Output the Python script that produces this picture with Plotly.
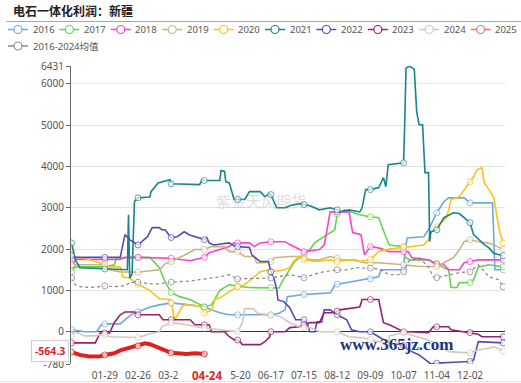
import plotly.graph_objects as go

YEAR = "2024"  # leap-year calendar so every MM-DD has a slot

# ---------------- data (MM-DD, value) ----------------
s2016 = [("01-01", 50), ("01-12", 0), ("01-22", 0), ("01-26", 170), ("01-29", 190), ("02-11", 190),
         ("02-15", 290), ("02-20", 410), ("02-26", 480), ("03-07", 600), ("03-15", 650), ("03-25", 700),
         ("04-10", 650), ("04-22", 600), ("04-28", 530), ("05-05", 460), ("05-13", 410), ("05-20", 410),
         ("06-17", 410), ("06-24", 450), ("06-29", 530), ("07-01", 850), ("07-15", 900), ("08-06", 940),
         ("08-08", 1020), ("08-10", 1140), ("08-12", 1150), ("08-22", 1190), ("09-09", 1280), ("09-16", 1330),
         ("09-18", 1500), ("10-05", 1500), ("10-07", 1500), ("10-08", 1910), ("10-10", 2270), ("10-24", 2300),
         ("10-28", 2470), ("11-04", 2880), ("11-10", 3150), ("11-14", 3240), ("11-27", 3240), ("12-02", 3120),
         ("12-21", 3120), ("12-23", 1500), ("12-30", 1500)]
s2017 = [("01-01", 1450), ("01-04", 1570), ("01-29", 1570), ("02-06", 1620), ("02-08", 1790), ("02-26", 1800),
         ("03-07", 1800), ("03-15", 1550), ("03-20", 1200), ("03-25", 950), ("04-01", 850), ("04-10", 780),
         ("04-18", 650), ("04-22", 600), ("04-28", 650), ("05-01", 800), ("05-05", 1000), ("05-13", 1140),
         ("05-20", 1100), ("05-30", 1070), ("06-17", 1070), ("06-24", 1060), ("06-26", 1190), ("06-29", 1330),
         ("07-03", 1500), ("07-07", 1700), ("07-11", 1790), ("07-15", 1860), ("07-20", 1990), ("07-24", 2150),
         ("07-28", 2230), ("08-01", 2300), ("08-06", 2400), ("08-10", 2470), ("08-12", 2850), ("08-18", 2950),
         ("08-31", 2830), ("09-09", 2780), ("09-16", 2760), ("09-19", 2520), ("09-22", 2300), ("09-25", 2100),
         ("10-07", 2060), ("10-08", 1820), ("10-12", 1740), ("10-28", 1740), ("11-04", 1650), ("11-10", 1550),
         ("11-14", 1500), ("11-16", 1070), ("11-21", 1070), ("11-23", 1190), ("12-02", 1190), ("12-05", 1260),
         ("12-09", 1570), ("12-18", 1620), ("12-30", 1570)]
s2018 = [("01-01", 1620), ("01-05", 1750), ("01-29", 1750), ("02-11", 1750), ("02-15", 1800), ("02-26", 1800),
         ("03-25", 1780), ("04-10", 1720), ("04-22", 1800), ("04-26", 1910), ("05-05", 1990), ("05-13", 2060),
         ("05-17", 2150), ("05-20", 2150), ("05-30", 2150), ("06-03", 2060), ("06-08", 2150), ("06-17", 2180),
         ("06-29", 2180), ("07-03", 2110), ("07-11", 1990), ("07-15", 1940), ("07-28", 1990), ("08-01", 2100),
         ("08-03", 2400), ("08-06", 2900), ("08-12", 2900), ("08-22", 2900), ("08-25", 2400), ("09-01", 2350),
         ("09-04", 1860), ("09-09", 2060), ("09-16", 2030), ("09-25", 1940), ("10-07", 1940), ("10-11", 1940),
         ("10-14", 1790), ("10-28", 1740), ("11-01", 1670), ("11-04", 1640), ("11-10", 1620), ("11-14", 1500),
         ("11-23", 1500), ("11-27", 1670), ("12-02", 1700), ("12-09", 1740), ("12-30", 1740)]
s2019 = [("01-01", 1770), ("01-04", 1620), ("01-25", 1620), ("01-29", 1600), ("02-02", 1500), ("02-11", 1450),
         ("02-26", 1440), ("03-15", 1500), ("03-20", 1650), ("03-25", 1700), ("04-05", 1850), ("04-14", 1990),
         ("04-22", 1990), ("04-28", 2060), ("05-09", 2060), ("05-13", 1940), ("05-20", 1940), ("05-26", 1820),
         ("06-03", 1820), ("06-05", 1670), ("06-12", 1670), ("06-17", 1700), ("06-20", 1790), ("07-03", 1820),
         ("07-11", 1820), ("07-15", 1780), ("07-20", 1740), ("07-28", 1740), ("08-06", 1820), ("08-12", 1780),
         ("08-14", 1740), ("08-27", 1740), ("09-04", 1670), ("09-09", 1670), ("09-16", 1670), ("10-07", 1620),
         ("10-20", 1580), ("11-04", 1580), ("11-06", 1580), ("11-10", 1670), ("11-18", 1790), ("11-22", 1940),
         ("11-27", 2180), ("12-02", 2230), ("12-09", 2180), ("12-18", 2150), ("12-22", 2100), ("12-30", 2000)]
s2020 = [("01-01", 1950), ("01-04", 1810), ("01-16", 1750), ("01-25", 1670), ("01-29", 1620), ("02-02", 1570),
         ("02-11", 1570), ("02-13", 1330), ("02-19", 1300), ("02-23", 1210), ("02-26", 1150), ("03-07", 1000),
         ("03-15", 800), ("03-24", 780), ("03-25", 700), ("03-28", 290), ("04-03", 600), ("04-05", 650),
         ("04-18", 620), ("04-22", 460), ("04-28", 520), ("05-01", 780), ("05-05", 820), ("05-13", 970),
         ("05-20", 1090), ("05-26", 1140), ("06-03", 1330), ("06-08", 1450), ("06-16", 1500), ("06-17", 1450),
         ("06-29", 1500), ("07-03", 1550), ("07-06", 1700), ("07-11", 1820), ("07-15", 1750), ("07-24", 1700),
         ("08-06", 1740), ("08-12", 1700), ("08-22", 1740), ("08-31", 1700), ("09-09", 1750), ("09-16", 1940),
         ("09-25", 2000), ("10-03", 2030), ("10-07", 2050), ("10-14", 2060), ("10-24", 2100), ("10-28", 2230),
         ("10-30", 2400), ("11-04", 2540), ("11-08", 2660), ("11-12", 2760), ("11-14", 2950), ("11-16", 3200),
         ("11-23", 3270), ("11-27", 3440), ("12-02", 3630), ("12-05", 3750), ("12-08", 3920), ("12-12", 3970),
         ("12-14", 3600), ("12-18", 3440), ("12-22", 3240), ("12-24", 2900), ("12-27", 2420), ("12-30", 2150)]
s2021 = [("01-01", 2150), ("01-04", 1750), ("01-08", 1550), ("01-29", 1520), ("02-15", 1500), ("02-17", 1500),
         ("02-18", 2830), ("02-19", 1300), ("02-21", 1400), ("02-23", 3150), ("02-26", 3240), ("03-07", 3260),
         ("03-08", 3390), ("03-14", 3600), ("03-24", 3680), ("03-25", 3580), ("04-18", 3560), ("04-20", 3680),
         ("04-22", 3660), ("05-05", 3660), ("05-06", 3900), ("05-09", 3880), ("05-10", 3630), ("05-13", 3600),
         ("05-17", 3200), ("05-20", 3200), ("05-26", 3200), ("05-30", 3390), ("06-08", 3390), ("06-12", 3270),
         ("06-16", 3350), ("06-17", 3320), ("06-22", 3000), ("06-29", 3000), ("07-03", 3050), ("07-11", 3100),
         ("07-15", 3080), ("07-20", 3050), ("07-28", 2950), ("08-06", 3000), ("08-12", 2950), ("08-14", 2900),
         ("08-22", 2950), ("08-31", 2900), ("09-02", 3000), ("09-05", 3440), ("09-09", 3440), ("09-16", 3490),
         ("09-20", 3730), ("09-22", 3510), ("09-24", 4040), ("10-07", 4090), ("10-08", 5100), ("10-09", 6380),
         ("10-12", 6431), ("10-16", 6350), ("10-18", 5330), ("10-20", 5010), ("10-23", 5010), ("10-25", 3850),
         ("10-28", 3850), ("10-29", 2180), ("10-30", 2420), ("11-04", 2470), ("11-10", 2760), ("11-18", 2880),
         ("11-23", 2860), ("12-02", 2640), ("12-05", 2350), ("12-14", 2110), ("12-18", 2030), ("12-22", 1900),
         ("12-30", 1840)]
s2022 = [("01-01", 1840), ("01-04", 1800), ("01-29", 1800), ("02-11", 1800), ("02-15", 2350), ("02-19", 2230),
         ("02-26", 2100), ("03-05", 2300), ("03-09", 2520), ("03-15", 2520), ("03-17", 2470), ("03-20", 2470),
         ("03-23", 2350), ("03-25", 2280), ("03-30", 2300), ("04-05", 2420), ("04-09", 2350), ("04-22", 2230),
         ("04-24", 2280), ("04-26", 2150), ("04-30", 2100), ("05-09", 2130), ("05-13", 2150), ("05-17", 2080),
         ("05-20", 2060), ("05-30", 2040), ("06-01", 1860), ("06-08", 1700), ("06-15", 1700), ("06-17", 1450),
         ("06-20", 1260), ("06-22", 1020), ("06-23", 770), ("06-28", 730), ("07-03", 580), ("07-08", 290),
         ("07-15", 290), ("07-18", 170), ("07-20", 0), ("07-24", 0), ("07-26", 240), ("07-30", 240),
         ("08-01", 530), ("08-06", 530), ("08-12", 410), ("08-20", 290), ("08-24", 50), ("08-31", 0),
         ("09-09", 0), ("09-16", -120), ("09-25", -270), ("10-03", -310), ("10-07", -330), ("10-11", -440),
         ("10-20", -560), ("10-30", -780), ("11-04", -760), ("11-23", -730), ("12-02", -720), ("12-05", -680),
         ("12-09", -240), ("12-30", -270)]
s2023 = [("01-01", -270), ("01-21", -270), ("01-25", -30), ("01-29", -30), ("02-02", -30), ("02-06", 220),
         ("02-11", 410), ("02-15", 480), ("02-23", 480), ("02-26", 410), ("03-15", 410), ("03-18", 290),
         ("03-25", 290), ("04-10", 290), ("04-14", 170), ("04-22", 170), ("04-26", 170), ("04-28", 0),
         ("05-09", 0), ("05-13", -120), ("05-17", -190), ("05-20", -200), ("05-22", -240), ("05-24", -310),
         ("06-08", -310), ("06-12", -240), ("06-16", -120), ("06-17", 0), ("06-29", 0), ("07-03", 100),
         ("07-11", 120), ("07-15", 170), ("07-20", 220), ("07-28", 220), ("08-01", 460), ("08-10", 460),
         ("08-12", 500), ("08-14", 530), ("08-31", 600), ("09-02", 780), ("09-09", 780), ("09-16", 780),
         ("09-20", 220), ("09-25", 170), ("10-07", 0), ("10-11", 0), ("10-28", -20), ("11-01", 120),
         ("11-04", 120), ("11-14", 120), ("11-16", 50), ("12-02", -20), ("12-09", -60), ("12-12", -120),
         ("12-30", -120)]
s2024 = [("01-01", -100), ("01-04", 0), ("01-08", -50), ("01-12", -100), ("01-21", -100), ("01-25", -70),
         ("01-29", -70), ("02-02", -120), ("02-26", -140), ("03-07", -50), ("03-15", 0), ("03-17", 120),
         ("03-25", 220), ("04-07", 170), ("04-15", 120), ("04-22", 90), ("05-05", 50), ("05-20", 0),
         ("05-24", 220), ("05-26", 560), ("06-02", 560), ("06-06", 450), ("06-17", 400), ("06-24", 380),
         ("06-27", 330), ("07-03", 220), ("07-11", 120), ("07-15", 100), ("07-20", 100), ("07-28", 0),
         ("08-12", 0), ("08-22", -120), ("09-04", -150), ("09-09", -190), ("09-20", -270), ("09-24", -440),
         ("09-25", -100), ("09-29", -70), ("10-07", -20), ("10-16", -100), ("10-28", -200), ("11-04", -310),
         ("11-14", -480), ("12-01", -510), ("12-02", -510), ("12-09", -440), ("12-18", -400), ("12-22", -360),
         ("12-30", -470)]
s2025 = [("01-01", -490), ("01-08", -560), ("01-16", -600), ("01-25", -590), ("01-29", -560), ("02-06", -520),
         ("02-11", -450), ("02-15", -420), ("02-23", -340), ("02-26", -340), ("03-03", -280), ("03-07", -300),
         ("03-15", -390), ("03-20", -470), ("03-25", -510), ("04-07", -540), ("04-14", -520), ("04-22", -540),
         ("04-24", -564.3)]
s_mean = [("01-01", 1300), ("01-04", 1140), ("01-08", 1090), ("01-16", 1070), ("01-25", 1090), ("01-29", 1110),
          ("02-06", 1090), ("02-15", 1110), ("02-19", 1190), ("02-26", 1200), ("03-11", 1150), ("03-25", 1200),
          ("04-10", 1230), ("04-18", 1260), ("04-26", 1300), ("05-05", 1330), ("05-13", 1380), ("05-20", 1280),
          ("06-17", 1300), ("07-03", 1380), ("07-15", 1310), ("07-28", 1430), ("08-12", 1500), ("08-22", 1500),
          ("08-27", 1550), ("09-09", 1540), ("09-16", 1520), ("09-25", 1380), ("10-03", 1380), ("10-07", 1450),
          ("10-11", 1700), ("10-20", 1790), ("10-28", 1570), ("11-01", 1330), ("11-04", 1310), ("11-23", 1430),
          ("12-02", 1450), ("12-09", 1620), ("12-18", 1330), ("12-26", 1260), ("12-30", 1090)]

series_names = ["2016", "2017", "2018", "2019", "2020", "2021", "2022", "2023", "2024", "2025", "2016-2024均值"]
series_data = [s2016, s2017, s2018, s2019, s2020, s2021, s2022, s2023, s2024, s2025, s_mean]
series_colors = ["#6EA8E2", "#62D64C", "#FF40C8", "#C9B47F", "#FFC21A", "#17848F", "#5B48B5", "#9C1E6E",
                 "#D5C8B8", "#E21F1F", "#808080"]
legend_colors = ["#6EA8E2", "#62D64C", "#FF40C8", "#C9B47F", "#FFC21A", "#17848F", "#5B48B5", "#9C1E6E",
                 "#D5C8B8", "#F07474", "#8C8C8C"]
marker_days = ["01-01", "01-29", "02-26", "03-25", "04-22", "05-20", "06-17", "07-15", "08-12", "09-09",
               "10-07", "11-04", "12-02", "12-30"]
x_tick_labels = ["01-29", "02-26", "03-25", "04-22", "05-20", "06-17", "07-15", "08-12", "09-09", "10-07",
                 "11-04", "12-02"]
title_text = "电石一体化利润：新疆"

# ---------------- layout geometry ----------------
W, H = 521, 383
PL, PT, PR, PB = 71, 66, 16, 19
PW, PH = W - PL - PR, H - PT - PB


def fx(px):
    return (px - PL) / PW


def fy(py):
    return (PT + PH - py) / PH


FONT = "Noto Sans, Noto Sans CJK SC, sans-serif"

fig = go.Figure()
for name, pairs, color in zip(series_names, series_data, series_colors):
    xs = [YEAR + "-" + d for d, _ in pairs]
    ys = [v for _, v in pairs]
    show = [d in marker_days for d, _ in pairs]
    is_cur = name == "2025"
    is_mean = name.endswith("均值")
    fig.add_trace(go.Scatter(
        x=xs, y=ys, mode="lines+markers", name=name, showlegend=False, hoverinfo="skip",
        line=dict(color=color, width=4 if is_cur else (1.2 if is_mean else 1.6),
                  dash="dot" if is_mean else "solid"),
        marker=dict(symbol="circle", size=[6 if s else 0 for s in show],
                    color=["white" if s else "rgba(0,0,0,0)" for s in show],
                    line=dict(width=1, color=[color if s else "rgba(0,0,0,0)" for s in show])),
    ))

all_vals = [v for pairs in series_data for _, v in pairs]
ymin, ymax = min(all_vals), max(all_vals)
ytv = [ymin] + list(range(0, int(ymax) + 1, 1000)) + [ymax]
ytt = ["%g" % v for v in ytv]

last_d, last_v = s2025[-1]
# tick label hidden under the axis-pointer label
x_tick_text = ["" if t[:2] == last_d[:2] and abs(int(t[3:]) - int(last_d[3:])) <= 3 else t
               for t in x_tick_labels]

shapes = []
annotations = []

# title + separator
annotations.append(dict(text="<b>" + title_text + "</b>", xref="paper", yref="paper", x=fx(11), y=fy(10),
                        xanchor="left", yanchor="middle", showarrow=False,
                        font=dict(family="Noto Sans CJK SC", size=12, color="#222")))
shapes.append(dict(type="line", xref="paper", yref="paper", x0=fx(6), x1=fx(521), y0=fy(21.5), y1=fy(21.5),
                   line=dict(color="#a8a8a8", width=1)))

# custom legend
for i, (name, color) in enumerate(zip(series_names, legend_colors)):
    if i < 10:
        cx, cy = 18 + 51.4 * i, 29.5
    else:
        cx, cy = 18, 46
    shapes.append(dict(type="line", xref="paper", yref="paper", x0=fx(cx - 10), x1=fx(cx + 10),
                       y0=fy(cy), y1=fy(cy), line=dict(color=color, width=1.5)))
    shapes.append(dict(type="circle", xref="paper", yref="paper", x0=fx(cx - 4), x1=fx(cx + 4),
                       y0=fy(cy + 4), y1=fy(cy - 4), fillcolor="white", line=dict(color=color, width=1.2)))
    annotations.append(dict(text=name, xref="paper", yref="paper", x=fx(cx + 12.5), y=fy(cy),
                            xanchor="left", yanchor="middle", showarrow=False,
                            font=dict(family=FONT, size=9.5, color="#555")))

# watermarks
annotations.append(dict(text="紫金天风期货", xref="paper", yref="paper", x=fx(261), y=fy(200),
                        showarrow=False, font=dict(family="Noto Sans CJK SC", size=15,
                                                   color="rgba(160,160,160,0.35)")))

# current-point labels (axis pointer)
annotations.append(dict(text="<b>%.1f</b>" % last_v, xref="paper", yref="y", x=0, y=last_v,
                        xanchor="right", yanchor="middle", xshift=-2, yshift=4, showarrow=False,
                        bgcolor="white", bordercolor="#cfcfcf", borderwidth=1, borderpad=3,
                        font=dict(family=FONT, size=10.5, color="#E0262A")))
shapes.append(dict(type="rect", xref="x", yref="paper", xsizemode="pixel", ysizemode="pixel",
                   xanchor=YEAR + "-" + last_d, yanchor=0, x0=-29, x1=24, y0=-2, y1=-18,
                   fillcolor="white", line=dict(width=0), layer="above"))
annotations.append(dict(text="<b>" + last_d + "</b>", xref="x", yref="paper", x=YEAR + "-" + last_d, y=0,
                        yanchor="top", yshift=-2, showarrow=False,
                        font=dict(family=FONT, size=11.5, color="#E0262A")))

annotations.append(dict(text="www.365jz.com", xref="paper", yref="paper", x=fx(455), y=fy(356),
                        showarrow=False,
                        font=dict(family="Liberation Serif", size=17, color="#22337A", weight="bold",
                                  shadow="0px 0px 2px white")))

shapes.append(dict(type="line", xref="paper", yref="paper", x0=fx(0), x1=fx(521), y0=fy(381.5), y1=fy(381.5),
                   line=dict(color="#e2e2e2", width=1)))

fig.update_layout(
    width=W, height=H, margin=dict(l=PL, r=PR, t=PT, b=PB, pad=0, autoexpand=False),
    paper_bgcolor="white", plot_bgcolor="white", showlegend=False,
    font=dict(family=FONT, size=10, color="#555"),
    shapes=shapes, annotations=annotations,
    xaxis=dict(type="date", range=["2023-12-31 12:00", "2024-12-31 12:00"], automargin=False,
               tickvals=[YEAR + "-" + t for t in x_tick_labels], ticktext=x_tick_text,
               showgrid=False, zeroline=False, showline=False,
               ticks="outside", ticklen=2, tickcolor="rgba(0,0,0,0)",
               tickfont=dict(size=10, color="#555")),
    yaxis=dict(range=[ymin, ymax], tickvals=ytv, ticktext=ytt, automargin=False,
               showgrid=True, gridcolor="#e3e3e3",
               zeroline=True, zerolinecolor="#333", zerolinewidth=1,
               showline=True, linecolor="#666", linewidth=1, ticks="outside", ticklen=4, tickcolor="#666",
               tickfont=dict(size=10, color="#555")),
)

fig.write_html("out.html", config={"displayModeBar": False},
               post_script="document.body.style.margin='0px';document.body.style.overflow='hidden';")
